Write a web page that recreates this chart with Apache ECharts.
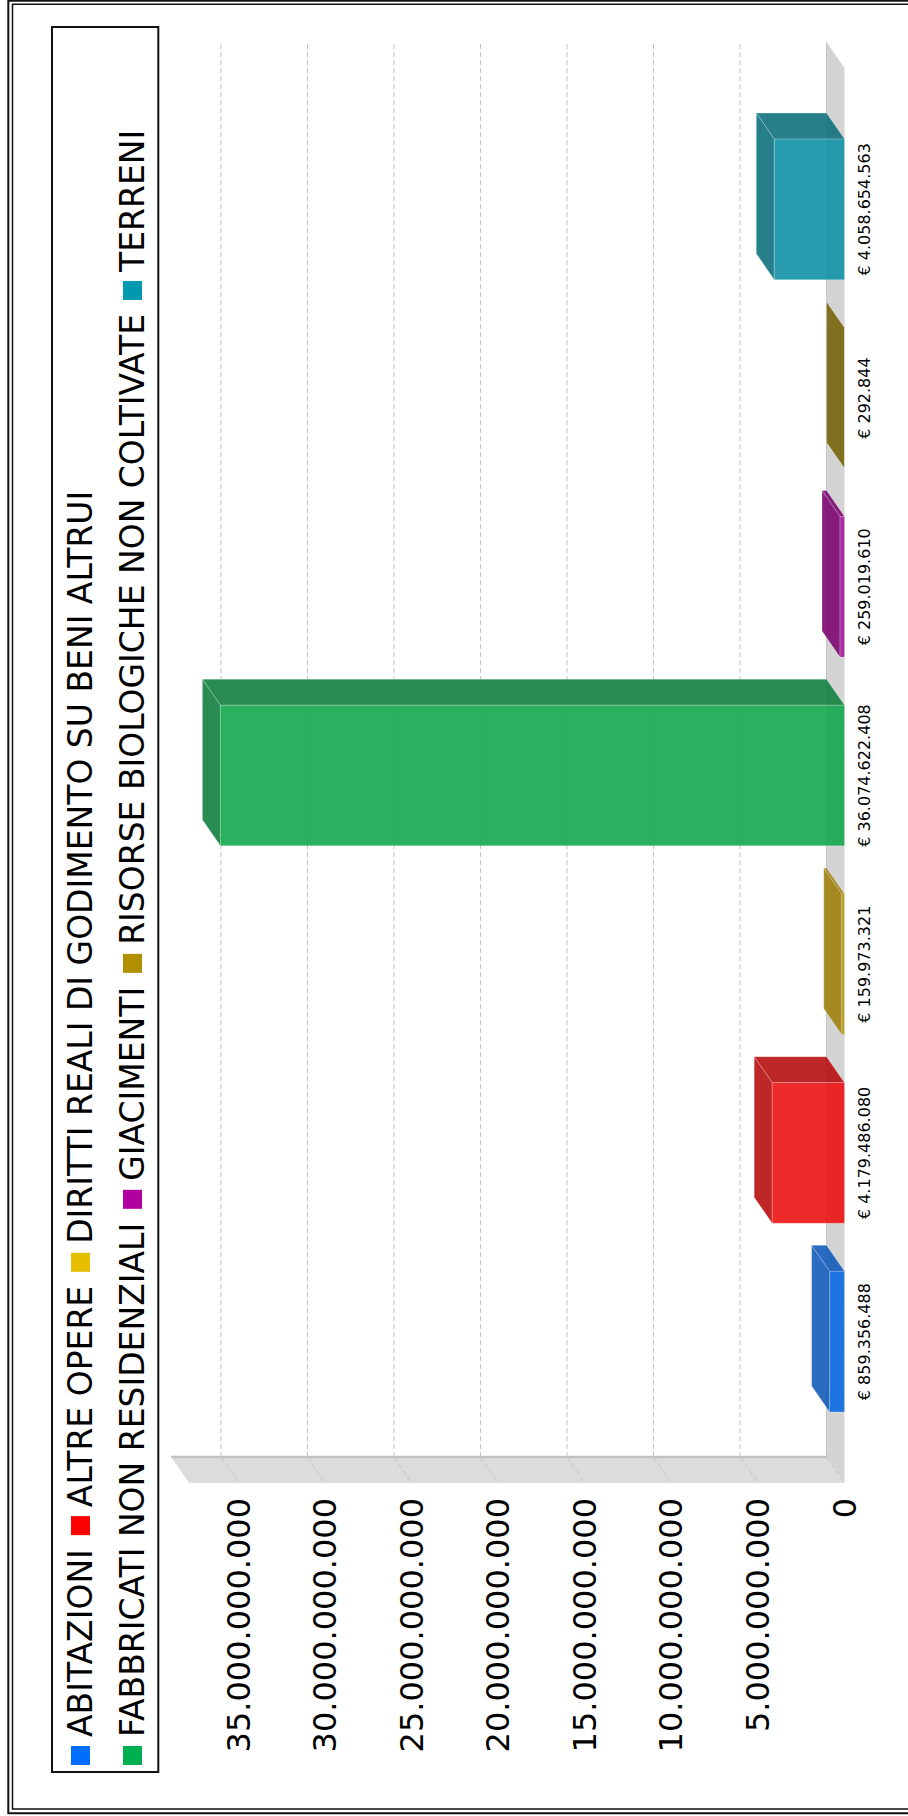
<!DOCTYPE html>
<html>
<head>
<meta charset="utf-8">
<script src="https://cdn.jsdelivr.net/npm/echarts@6/dist/echarts.min.js"></script>
<style>
html,body{margin:0;padding:0;background:#fff;}
#wrap{position:relative;width:908px;height:1816px;overflow:hidden;background:#fff;}
#chart{position:absolute;left:0;top:0;width:1816px;height:908px;transform-origin:0 0;transform:translateY(1816px) rotate(-90deg);}
</style>
</head>
<body>
<div id="wrap"><div id="chart"></div></div>
<script>
// ---- data ----
const categories = ['ABITAZIONI', 'ALTRE OPERE', 'DIRITTI REALI DI GODIMENTO SU BENI ALTRUI', 'FABBRICATI NON RESIDENZIALI', 'GIACIMENTI', 'RISORSE BIOLOGICHE NON COLTIVATE', 'TERRENI'];
const values = [859356488, 4179486080, 159973321, 36074622408, 259019610, 292844, 4058654563];
const yTicks = [0, 5000000000, 10000000000, 15000000000, 20000000000, 25000000000, 30000000000, 35000000000];
const legendRow1 = ['ABITAZIONI', 'ALTRE OPERE', 'DIRITTI REALI DI GODIMENTO SU BENI ALTRUI'];
const legendRow2 = ['FABBRICATI NON RESIDENZIALI', 'GIACIMENTI', 'RISORSE BIOLOGICHE NON COLTIVATE', 'TERRENI'];

// ---- styles ----
const legendColors = ['#006eff', '#ff0000', '#e6bf00', '#00b050', '#b000a0', '#b08f00', '#0099b0'];
const frontColors = ['#0969e1', '#ec1212', '#b79b10', '#13a74d', '#a7179c', '#8a7410', '#1291a6'];
const topColors = ['#125cb9', '#b71010', '#9e810c', '#12803f', '#7d0772', '#78640c', '#11717f'];
const DX = 26, DY = -18, SIDE_PAD = 47, BAR_RATIO = 0.745;
const Y_MAX = Math.max(...values) * 1.05;

function fmt(n) {
  return String(Math.round(n)).replace(/\B(?=(\d{3})+(?!\d))/g, '.');
}

function renderEnv(params, api) {
  const cs = params.coordSys;
  const L = cs.x - SIDE_PAD, R = cs.x + cs.width + SIDE_PAD;
  const y0 = api.coord([0, 0])[1];
  const yM = api.coord([0, Y_MAX])[1];
  const children = [];
  children.push({type: 'polygon', shape: {points: [[L, y0], [R, y0], [R + DX, y0 + DY], [L + DX, y0 + DY]]}, style: {fill: '#d4d4d4'}});
  children.push({type: 'polygon', shape: {points: [[L, y0], [L, yM], [L + DX, yM + DY], [L + DX, y0 + DY]]}, style: {fill: '#dcdcdc'}});
  children.push({type: 'line', shape: {x1: L + DX, y1: y0 + DY, x2: R + DX, y2: y0 + DY}, style: {stroke: '#c8c8c8', lineWidth: 1}});
  children.push({type: 'line', shape: {x1: L + DX, y1: yM + DY, x2: L + DX, y2: y0 + DY}, style: {stroke: '#c2c2c2', lineWidth: 2.5}});
  yTicks.forEach(t => {
    const yy = api.coord([0, t])[1];
    children.push({type: 'line', shape: {x1: L + DX, y1: yy + DY, x2: R + DX, y2: yy + DY}, style: {stroke: '#c4c4c4', lineWidth: 1, lineDash: [5, 3]}});
    children.push({type: 'line', shape: {x1: L + DX, y1: yy + DY, x2: L, y2: yy}, style: {stroke: '#c4c4c4', lineWidth: 1, lineDash: [5, 3]}});
  });
  return {type: 'group', children};
}

function renderBar(params, api) {
  const i = api.value(0), v = api.value(1);
  const top = api.coord([i, v]), base = api.coord([i, 0]);
  const hw = api.size([1, 0])[0] * BAR_RATIO / 2;
  const x0 = top[0] - hw, x1 = top[0] + hw, yT = top[1], yB = base[1];
  const fc = frontColors[i], tc = topColors[i];
  const edge = 'rgba(255,255,255,0.25)';
  return {type: 'group', children: [
    {type: 'polyline', shape: {points: [[x0 + DX, yT + DY], [x0 + DX, yB + DY], [x1 + DX, yB + DY]]}, style: {stroke: edge, lineWidth: 1, fill: null}},
    {type: 'line', shape: {x1: x0, y1: yB, x2: x0 + DX, y2: yB + DY}, style: {stroke: edge, lineWidth: 1}},
    {type: 'polygon', shape: {points: [[x1, yT], [x1 + DX, yT + DY], [x1 + DX, yB + DY], [x1, yB]]}, style: {fill: tc, opacity: 0.9, stroke: edge, lineWidth: 1}},
    {type: 'polygon', shape: {points: [[x0, yT], [x1, yT], [x1 + DX, yT + DY], [x0 + DX, yT + DY]]}, style: {fill: tc, opacity: 0.9, stroke: edge, lineWidth: 1}},
    {type: 'rect', shape: {x: x0, y: yT, width: x1 - x0, height: yB - yT}, style: {fill: fc, opacity: 0.9, stroke: edge, lineWidth: 1}}
  ]};
}

const series = [{
  type: 'custom', renderItem: renderEnv, data: [[0, 0]], z: 1, silent: true, clip: false
}];
categories.forEach((name, i) => {
  series.push({
    type: 'custom', name: name, renderItem: renderBar, data: [[i, values[i]]], z: 2, clip: false,
    itemStyle: {color: legendColors[i]},
    encode: {x: 0, y: 1}
  });
});

const legendText = {fontFamily: 'DejaVu Sans', fontSize: 33, color: '#000'};
// square icon plus transparent spacing to the text
const legendIcon = 'path://M0,0H19V19H0Z M23,19';
const option = {
  backgroundColor: '#fff',
  animation: false,
  legend: [
    {data: legendRow1, left: 51, top: 64, padding: 0, itemGap: 14, itemWidth: 23, itemHeight: 19, icon: legendIcon, textStyle: legendText, selectedMode: false},
    {data: legendRow2, left: 51, top: 116, padding: 0, itemGap: 14, itemWidth: 23, itemHeight: 19, icon: legendIcon, textStyle: legendText, selectedMode: false}
  ],
  grid: {left: 380, right: 115, top: 189.2, bottom: 63.5, containLabel: false},
  xAxis: {
    type: 'category', data: categories,
    axisLine: {show: false}, axisTick: {show: false}, splitLine: {show: false},
    axisLabel: {interval: 0, margin: 12, fontSize: 16, fontFamily: 'DejaVu Sans', color: '#000',
      formatter: (val, idx) => '€ ' + fmt(values[idx])}
  },
  yAxis: {
    type: 'value', min: 0, max: Y_MAX, interval: 5000000000,
    axisLine: {show: false}, axisTick: {show: false}, splitLine: {show: false},
    axisLabel: {margin: 62, fontSize: 32, fontFamily: 'DejaVu Sans', color: '#000', showMaxLabel: false,
      formatter: v => (v % 5000000000 === 0 ? fmt(v) : '')}
  },
  graphic: [
    {type: 'rect', shape: {x: 44, y: 52, width: 1745, height: 106.3}, style: {fill: null, stroke: '#111', lineWidth: 2}, z: 10},
    {type: 'rect', shape: {x: 2.7, y: 8.3, width: 1812.5, height: 1000}, style: {fill: null, stroke: '#111', lineWidth: 2}, z: 10},
    {type: 'rect', shape: {x: 7, y: 12.5, width: 1804.8, height: 1000}, style: {fill: null, stroke: '#111', lineWidth: 1.5}, z: 10}
  ],
  series: series
};

const chart = echarts.init(document.getElementById('chart'), null, {renderer: 'svg', width: 1816, height: 908});
chart.setOption(option);
</script>
</body>
</html>
